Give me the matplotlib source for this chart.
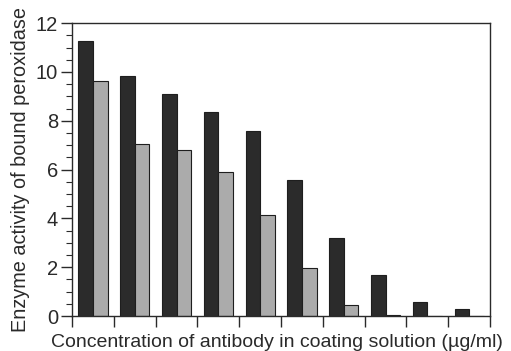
import numpy as np
import matplotlib
matplotlib.use("Agg")
import matplotlib.pyplot as plt
from matplotlib.ticker import MultipleLocator

# enzyme activity per antibody concentration step (10 steps, no labels on x)
groups = np.arange(10)
dark_vals = [11.25, 9.84, 9.11, 8.35, 7.58, 5.56, 3.18, 1.68, 0.56, 0.27]
light_vals = [9.62, 7.05, 6.80, 5.89, 4.14, 1.98, 0.45, 0.05, 0.0, 0.0]
yticks = [0, 2, 4, 6, 8, 10, 12]

plt.rcParams['font.family'] = ['Liberation Sans', 'DejaVu Sans']

fig = plt.figure(figsize=(5.11, 3.51), dpi=100)
ax = fig.add_axes([0.141, 0.0997, 0.818, 0.8343])

w = 0.35
ax.bar(groups + 0.5 - w / 2, dark_vals, width=w, color='#2b2b2b',
       edgecolor='#1e1e1e', linewidth=0.8)
ax.bar(groups + 0.5 + w / 2, light_vals, width=w, color='#ababab',
       edgecolor='#1e1e1e', linewidth=0.8)

ax.set_xlim(0, 10)
ax.set_ylim(0, 12)
ax.set_xticks(np.arange(11))
ax.set_xticklabels([])
ax.set_yticks(yticks)
ax.yaxis.set_minor_locator(MultipleLocator(0.5))
ax.tick_params(axis='y', which='major', length=8, width=1, labelsize=14.5,
               pad=2, colors='#2a2a2a')
ax.tick_params(axis='y', which='minor', length=4, width=0.8, colors='#2a2a2a')
ax.tick_params(axis='x', which='major', length=8, width=1, colors='#2a2a2a')
for s in ax.spines.values():
    s.set_color('#2a2a2a')
    s.set_linewidth(1.0)

ax.set_ylabel('Enzyme activity of bound peroxidase', fontsize=14.3,
              color='#2a2a2a', labelpad=4)
ax.set_xlabel('Concentration of antibody in coating solution (\u00b5g/ml)',
              fontsize=14.0, color='#2a2a2a')
ax.xaxis.set_label_coords(0.49, -0.062)

fig.savefig('out.png', dpi=100)
